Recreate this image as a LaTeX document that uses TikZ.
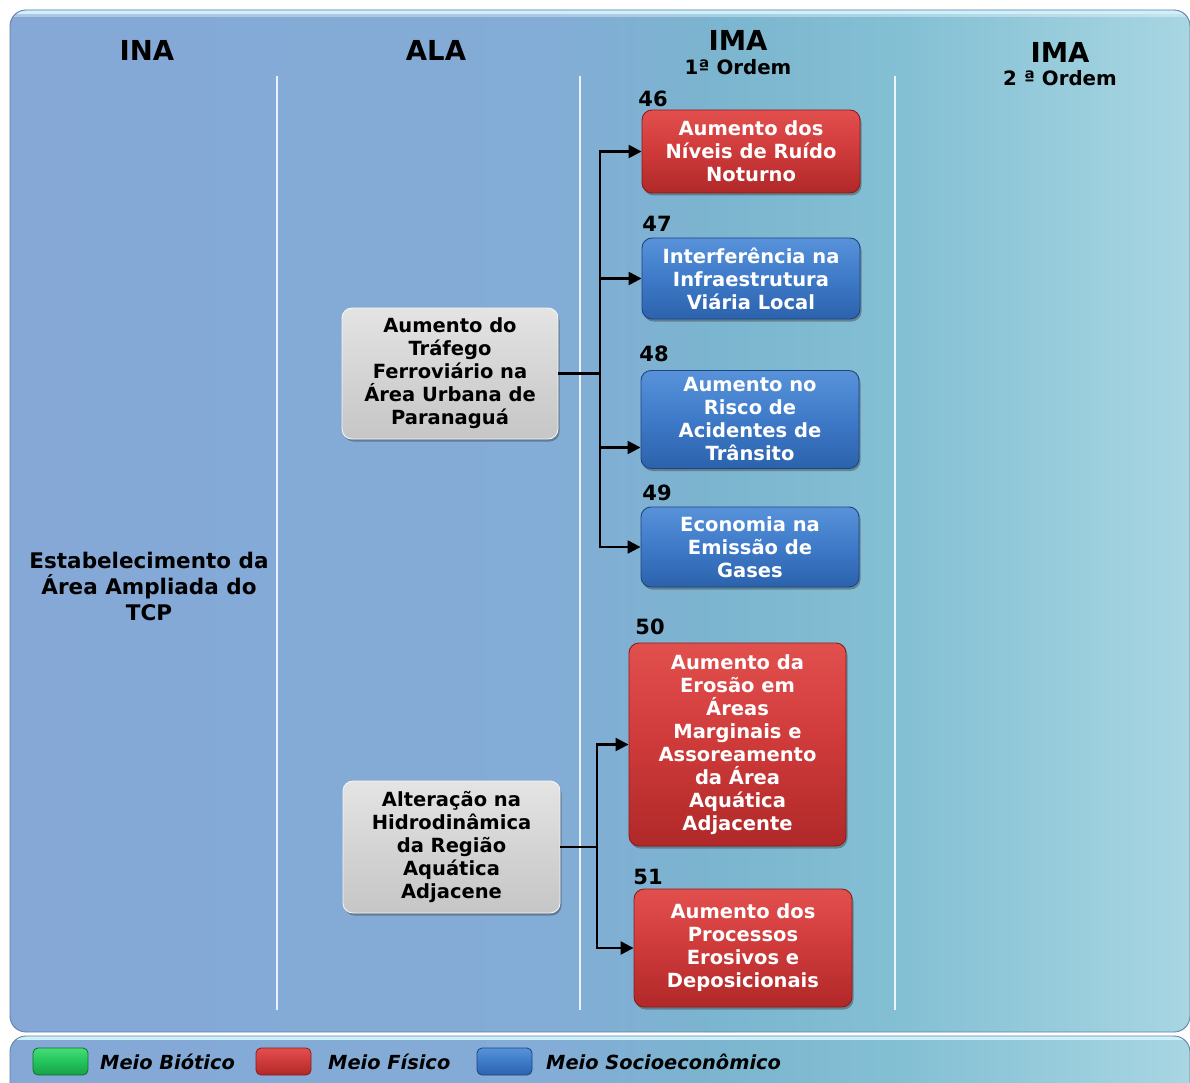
\documentclass[tikz,border=0pt]{standalone}
\usepackage{fontspec}
\setmainfont{DejaVu Sans}
\usetikzlibrary{shadows,arrows.meta}

% palette
\definecolor{panelA}{RGB}{133,168,215}
\definecolor{panelB}{RGB}{131,172,214}
\definecolor{panelC}{RGB}{123,181,207}
\definecolor{panelD}{RGB}{132,192,212}
\definecolor{panelE}{RGB}{168,214,226}
\definecolor{panelEdge}{RGB}{98,128,170}
\definecolor{gloss}{RGB}{205,240,250}
\definecolor{redT}{RGB}{226,80,78}
\definecolor{redM}{RGB}{206,58,58}
\definecolor{redB}{RGB}{176,40,40}
\definecolor{redE}{RGB}{140,28,28}
\definecolor{bluT}{RGB}{88,146,218}
\definecolor{bluM}{RGB}{62,122,200}
\definecolor{bluB}{RGB}{44,98,172}
\definecolor{bluE}{RGB}{30,68,128}
\definecolor{greT}{RGB}{70,220,120}
\definecolor{greM}{RGB}{36,196,92}
\definecolor{greB}{RGB}{22,160,70}
\definecolor{greE}{RGB}{16,110,50}
\definecolor{gryT}{RGB}{228,228,228}
\definecolor{gryM}{RGB}{212,212,212}
\definecolor{gryB}{RGB}{198,198,198}
\definecolor{gryE}{RGB}{245,245,245}

\pgfdeclarehorizontalshading{panelshade}{100bp}{%
  color(0bp)=(panelA); color(25bp)=(panelA); color(48bp)=(panelB);
  color(55bp)=(panelC); color(63bp)=(panelD); color(75bp)=(panelE);
  color(100bp)=(panelE)}

\tikzset{
  box/.style={rounded corners=10pt, minimum width=218pt, align=center,
    inner sep=0pt, line width=0.9pt,
    font=\fontsize{19.5}{23}\selectfont\bfseries,
    drop shadow={shadow xshift=1.5pt, shadow yshift=-2.5pt, opacity=0.4, fill=black!80}},
  fisico/.style={box, text=white, draw=redE, top color=redT, bottom color=redB, middle color=redM},
  socio/.style={box, text=white, draw=bluE, top color=bluT, bottom color=bluB, middle color=bluM},
  cause/.style={box, text=black, draw=gryE, top color=gryT, bottom color=gryB, middle color=gryM},
  num/.style={font=\fontsize{21}{24}\selectfont\bfseries, inner sep=0pt},
  head/.style={font=\fontsize{27.5}{30}\selectfont\bfseries, inner sep=0pt},
  subhead/.style={font=\fontsize{19.8}{22}\selectfont\bfseries, inner sep=0pt},
  conn/.style={line width=2.4pt, black},
  arr/.style={conn, -{Triangle[length=13pt,width=13pt]}},
  sep/.style={white, line width=1.1pt, opacity=0.85},
  swatch/.style={rounded corners=5pt, minimum width=55pt, minimum height=27pt,
    inner sep=0pt, line width=0.8pt},
  legtext/.style={font=\fontsize{19.4}{22}\selectfont\bfseries\itshape, anchor=west, inner sep=0pt}
}

\begin{document}
\begin{tikzpicture}[x=1pt,y=-1pt]
\useasboundingbox (0,0) rectangle (1190,1083);
\fill[white] (0,0) rectangle (1190,1083);

% main panel
\shade[shading=panelshade, rounded corners=16pt] (10,10) rectangle (1190,1032);
\begin{scope}
  \clip[rounded corners=16pt] (10,10) rectangle (1190,1032);
  \fill[gloss] (10,8) rectangle (1190,14);
  \fill[white, opacity=0.35] (10,14) rectangle (1190,17);
\end{scope}
\draw[panelEdge, line width=0.9pt, rounded corners=16pt] (10,10) rectangle (1190,1032);

% legend panel
\shade[shading=panelshade, rounded corners=16pt] (10,1036) rectangle (1190,1120);
\begin{scope}
  \clip[rounded corners=16pt] (10,1036) rectangle (1190,1120);
  \fill[gloss] (10,1034) rectangle (1190,1040);
\end{scope}
\draw[panelEdge, line width=0.9pt, rounded corners=16pt] (10,1036) rectangle (1190,1120);

% column separators
\draw[sep] (277,76) -- (277,1010);
\draw[sep] (580,76) -- (580,1010);
\draw[sep] (895,76) -- (895,1010);

% column headings
\node[head] (hINA) at (147,50) {INA};
\node[head] (hALA) at (436,50) {ALA};
\node[head] (hIMA1) at (738,40) {IMA};
\node[subhead] (hOrd1) at (738,67) {1ª Ordem};
\node[head] (hIMA2) at (1060,52) {IMA};
\node[subhead] (hOrd2) at (1060,78) {2 ª Ordem};

% activity
\node[align=center, inner sep=0pt, font=\fontsize{21.5}{26}\selectfont\bfseries] (ina) at (149,586)
  {Estabelecimento da\\Área Ampliada do\\TCP};

% environmental aspects
\node[cause, minimum width=216pt, minimum height=131pt] (g1) at (450,373.5)
  {Aumento do\\Tráfego\\Ferroviário na\\Área Urbana de\\Paranaguá};
\node[cause, minimum width=217pt, minimum height=132pt] (g2) at (451.5,847)
  {Alteração na\\Hidrodinâmica\\da Região\\Aquática\\Adjacene};

% first order impacts
\node[fisico, minimum height=83pt] (b46) at (751,151.5)
  {Aumento dos\\Níveis de Ruído\\Noturno};
\node[socio, minimum height=81pt] (b47) at (751,278.5)
  {Interferência na\\Infraestrutura\\Viária Local};
\node[socio, minimum height=98pt] (b48) at (750,419.5)
  {Aumento no\\Risco de\\Acidentes de\\Trânsito};
\node[socio, minimum height=80pt] (b49) at (750,547)
  {Economia na\\Emissão de\\Gases};
\node[fisico, minimum width=217pt, minimum height=203pt] (b50) at (737.5,744.5)
  {Aumento da\\Erosão em\\Áreas\\Marginais e\\Assoreamento\\da Área\\Aquática\\Adjacente};
\node[fisico, minimum height=118pt] (b51) at (743,948)
  {Aumento dos\\Processos\\Erosivos e\\Deposicionais};

% impact numbers
\node[num] (n46) at (653,99) {46};
\node[num] (n47) at (657,224) {47};
\node[num] (n48) at (654,354) {48};
\node[num] (n49) at (657,493) {49};
\node[num] (n50) at (650,627) {50};
\node[num] (n51) at (648,877) {51};

% connectors
\coordinate (j1) at (600,373.5);
\coordinate (j2) at (597,847);
\draw[conn] (g1.east) -- (j1);
\draw[arr] (j1) |- (b46.west);
\draw[arr] (j1) |- (b47.west);
\draw[arr] (j1) |- ([yshift=-28pt]b48.west);
\draw[arr] (j1) |- (b49.west);
\draw[conn] (g2.east) -- (j2);
\draw[arr] (j2) |- (b50.west);
\draw[arr] (j2) |- (b51.west);

% legend
\node[swatch, draw=greE, top color=greT, bottom color=greB, middle color=greM] (swB) at (60.5,1061.5) {};
\node[swatch, draw=redE, top color=redT, bottom color=redB, middle color=redM] (swF) at (283.5,1061.5) {};
\node[swatch, draw=bluE, top color=bluT, bottom color=bluB, middle color=bluM] (swS) at (504.5,1061.5) {};
\node[legtext] (lgB) at (100,1062) {Meio Biótico};
\node[legtext] (lgF) at (328,1062) {Meio Físico};
\node[legtext] (lgS) at (546,1062) {Meio Socioeconômico};
\end{tikzpicture}
\end{document}
